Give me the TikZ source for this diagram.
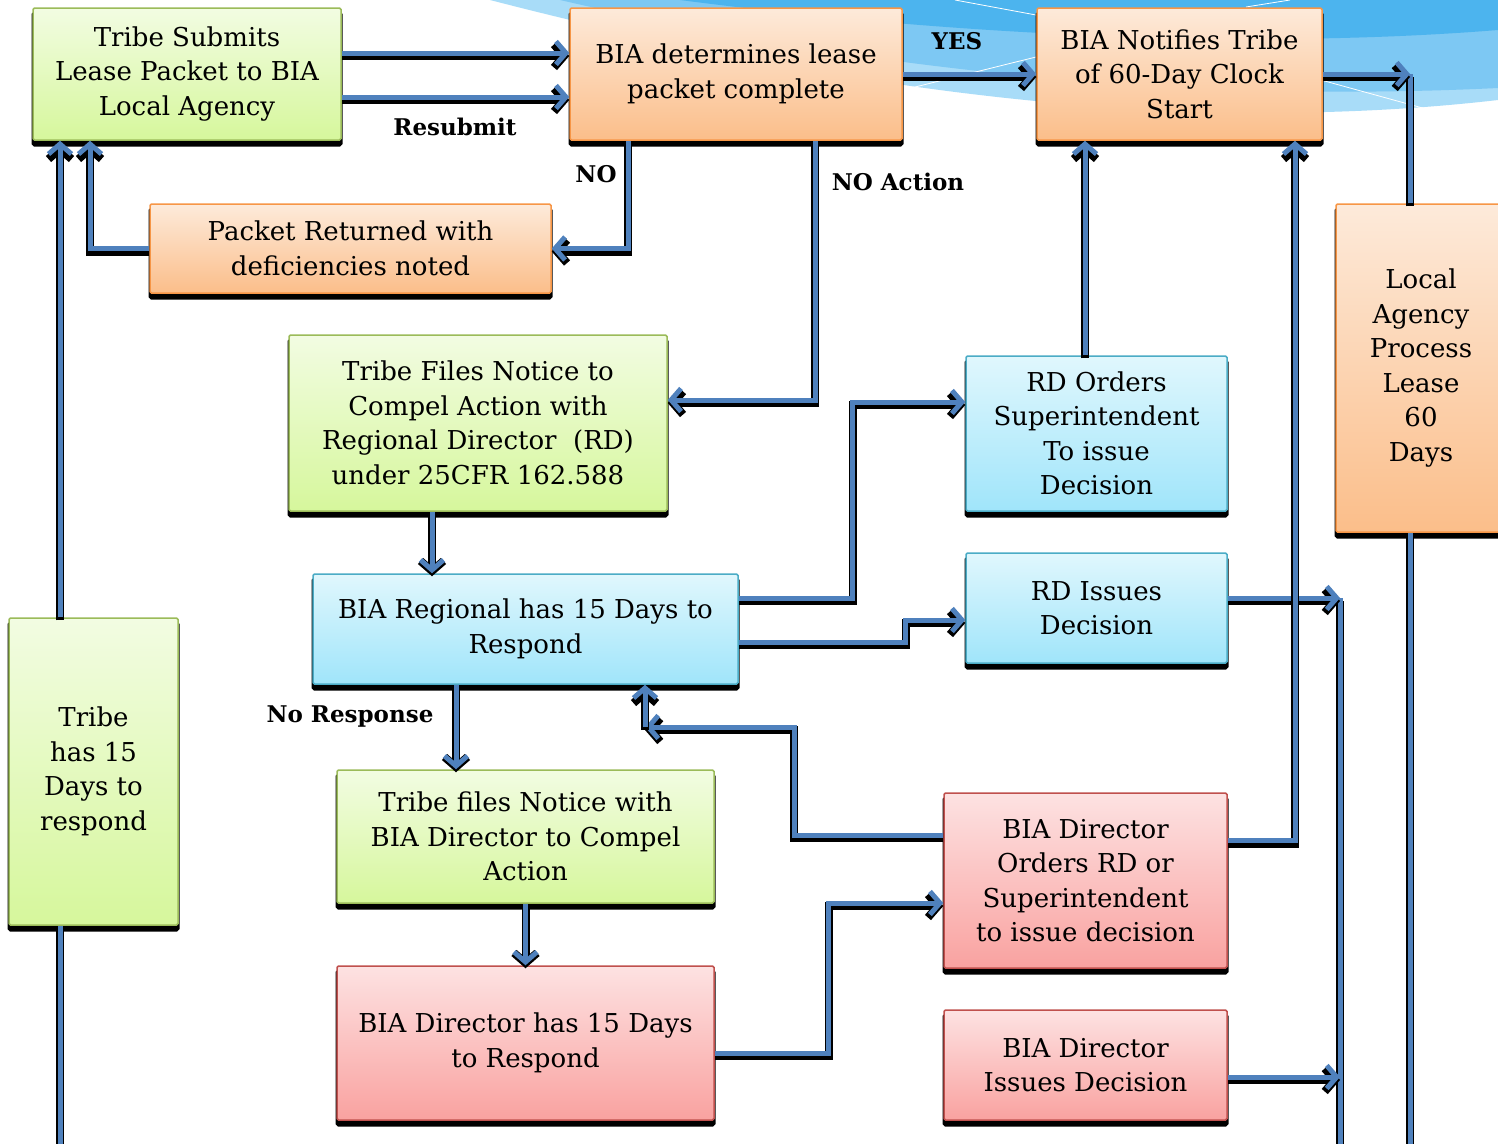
\documentclass[tikz,border=0pt]{standalone}
\usepackage{fontspec}
\setmainfont{DejaVu Serif}
\usepackage{tikz}
\usetikzlibrary{arrows.meta}
\usetikzlibrary{shadows}
\definecolor{flowblue}{RGB}{79,129,189}
\definecolor{greentop}{RGB}{242,252,226}
\definecolor{greenbot}{RGB}{214,247,156}
\definecolor{greenline}{RGB}{155,187,89}
\definecolor{orangetop}{RGB}{253,234,218}
\definecolor{orangebot}{RGB}{251,190,138}
\definecolor{orangeline}{RGB}{247,150,70}
\definecolor{bluetop}{RGB}{224,247,253}
\definecolor{bluebot}{RGB}{160,229,250}
\definecolor{blueline}{RGB}{75,172,198}
\definecolor{redtop}{RGB}{253,226,226}
\definecolor{redbot}{RGB}{249,162,160}
\definecolor{redline}{RGB}{192,80,77}
\definecolor{swooshA}{RGB}{168,220,248}
\definecolor{swooshB}{RGB}{125,200,243}
\definecolor{swooshC}{RGB}{76,180,238}
\tikzstyle{task_box}=[rectangle, rounded corners=1.5pt, line width=1.5pt, align=center, inner sep=0pt,
    font=\fontsize{26pt}{34.5pt}\selectfont,
    general shadow={fill=black, draw=black, line width=3pt, shadow yshift=-5pt}]
\tikzstyle{box_green}=[task_box, draw=greenline, top color=greentop, bottom color=greenbot]
\tikzstyle{box_orange}=[task_box, draw=orangeline, top color=orangetop, bottom color=orangebot]
\tikzstyle{box_blue}=[task_box, draw=blueline, top color=bluetop, bottom color=bluebot]
\tikzstyle{box_red}=[task_box, draw=redline, top color=redtop, bottom color=redbot]
\tikzstyle{flowline}=[draw=flowblue, line width=5pt,
    preaction={draw=black, line width=8pt, transform canvas={yshift=-3pt}}]
\tikzstyle{flow}=[flowline, -{Straight Barb[length=10pt,width=23pt]}]
\tikzstyle{flow_label}=[inner sep=0pt, font=\bfseries\fontsize{23pt}{28pt}\selectfont]
\begin{document}
\begin{tikzpicture}[x=1pt, y=-1pt]
          \useasboundingbox (0,0) rectangle (1498,1143);
          \clip (0,0) rectangle (1498,1143);
          \fill[white] (0,0) rectangle (1498,1143);
          \fill[swooshA] (490,0) .. controls (800,80) and (1150,140) .. (1498,100) -- (1498,0) -- cycle;
          \fill[swooshB] (560,0) .. controls (820,60) and (1150,105) .. (1498,88) -- (1498,0) -- cycle;
          \fill[swooshC] (680,0) .. controls (950,35) and (1250,50) .. (1498,30) -- (1498,0) -- cycle;
          \draw[white, line width=0.8pt] (955,0) -- (1036,15);
          \draw[white, line width=0.8pt] (903,90) -- (1036,57);
          \draw[white, line width=0.8pt] (1321,80) -- (1448,115);
          \draw[white, line width=0.8pt] (1246,7) -- (1290,0);
          \coordinate (bot) at (0,1150);
          \node[box_green, minimum width=308pt, minimum height=132pt] (submit) at (187,74) {Tribe Submits\\Lease Packet to BIA\\Local Agency};
          \node[box_orange, minimum width=332pt, minimum height=132pt] (complete) at (736,74) {BIA determines lease\\packet complete};
          \node[box_orange, minimum width=285pt, minimum height=132pt] (notify) at (1179.5,74) {BIA Notifies Tribe\\of 60-Day Clock\\Start};
          \node[box_orange, minimum width=401pt, minimum height=89pt] (returned) at (350.5,248.5) {Packet Returned with\\deficiencies noted};
          \node[box_green, minimum width=378pt, minimum height=176pt] (compel) at (478,423) {Tribe Files Notice to\\Compel Action with\\Regional Director\ \ (RD)\\under 25CFR 162.588};
          \node[box_blue, minimum width=261pt, minimum height=155pt] (rdorders) at (1096.5,433.5) {RD Orders\\Superintendent\\To issue\\Decision};
          \node[box_orange, minimum width=170pt, minimum height=328pt] (local) at (1421,368) {Local\\Agency\\Process\\Lease\\60\\Days};
          \node[box_blue, minimum width=425pt, minimum height=110pt] (regional) at (525.5,629) {BIA Regional has 15 Days to\\Respond};
          \node[box_blue, minimum width=261pt, minimum height=110pt] (rdissues) at (1096.5,608) {RD Issues\\Decision};
          \node[box_green, minimum width=169pt, minimum height=307pt] (tribe15) at (93.5,771.5) {Tribe\\has 15\\Days to\\respond};
          \node[box_green, minimum width=377pt, minimum height=133pt] (director) at (525.5,836.5) {Tribe files Notice with\\BIA Director to Compel\\Action};
          \node[box_red, minimum width=283pt, minimum height=175pt] (dirorders) at (1085.5,880.5) {BIA Director\\Orders RD or\\Superintendent\\to issue decision};
          \node[box_red, minimum width=377pt, minimum height=154pt] (dir15) at (525.5,1043) {BIA Director has 15 Days\\to Respond};
          \node[box_red, minimum width=283pt, minimum height=110pt] (dirissues) at (1085.5,1065) {BIA Director\\Issues Decision};
          \draw[flow] ([yshift=21pt]submit.east) -- ([yshift=21pt]complete.west);
          \draw[flow] ([yshift=-23pt]submit.east) -- ([yshift=-23pt]complete.west);
          \draw[flow] (complete.east) -- (notify.west);
          \draw[flow] ([xshift=-108pt]complete.south) |- (returned.east);
          \draw[flow] (returned.west) -| ([xshift=-97pt]submit.south);
          \draw[flow] ([xshift=-33.5pt]tribe15.north) -- ([xshift=-127pt]submit.south);
          \coordinate (b1) at (60,1150);
          \draw[flowline] (b1) -- ([xshift=-33.5pt]tribe15.south);
          \draw[flow] ([xshift=79pt]complete.south) |- ([yshift=23pt]compel.east);
          \coordinate (k1) at (1410,74);
          \draw[flowline] ([xshift=-11pt]local.north) -- (k1);
          \draw[flow] (notify.east) -- (k1);
          \draw[flowline] ([xshift=-11pt]local.south) -- (bot -| k1);
          \draw[flow] ([xshift=-46pt]compel.south) -- ([xshift=-46pt]compel.south |- regional.north);
          \draw[flow] ([yshift=31pt]regional.east) -- ++(114,0) |- ([yshift=31.5pt]rdorders.west);
          \draw[flow] ([yshift=-13pt]regional.east) -- ++(167,0) |- ([yshift=-12pt]rdissues.west);
          \draw[flow] ([xshift=-11.5pt]rdorders.north) -- ([xshift=-11.5pt]rdorders.north |- notify.south);
          \coordinate (k3) at (1340,598);
          \draw[flowline] (k3) -- (bot -| k3);
          \draw[flow] ([yshift=10pt]rdissues.east) -- (k3);
          \draw[flow] ([yshift=-12pt]dirissues.east) -- ([yshift=-12pt]dirissues.east -| k3);
          \draw[flow] ([yshift=40pt]dirorders.east) -| ([xshift=115.5pt]notify.south);
          \coordinate (k2) at (645,727);
          \draw[flow] ([yshift=45.5pt]dirorders.west) -- ++(-149,0) |- (k2);
          \draw[flow] (k2) -- (k2 |- regional.south);
          \draw[flow] ([xshift=-69.5pt]regional.south) -- ([xshift=-69.5pt]regional.south |- director.north);
          \draw[flow] (director.south) -- (dir15.north);
          \draw[flow] ([yshift=-10pt]dir15.east) -- ++(114,0) |- ([yshift=-22.5pt]dirorders.west);
          \node[flow_label] (resubmit) at (455,127) {Resubmit};
          \node[flow_label] (no) at (596,174) {NO};
          \node[flow_label] (yes) at (957,41) {YES};
          \node[flow_label] (noaction) at (898,182) {NO Action};
          \node[flow_label] (noresponse) at (350,716) {No Response};
        \end{tikzpicture}
\end{document}
